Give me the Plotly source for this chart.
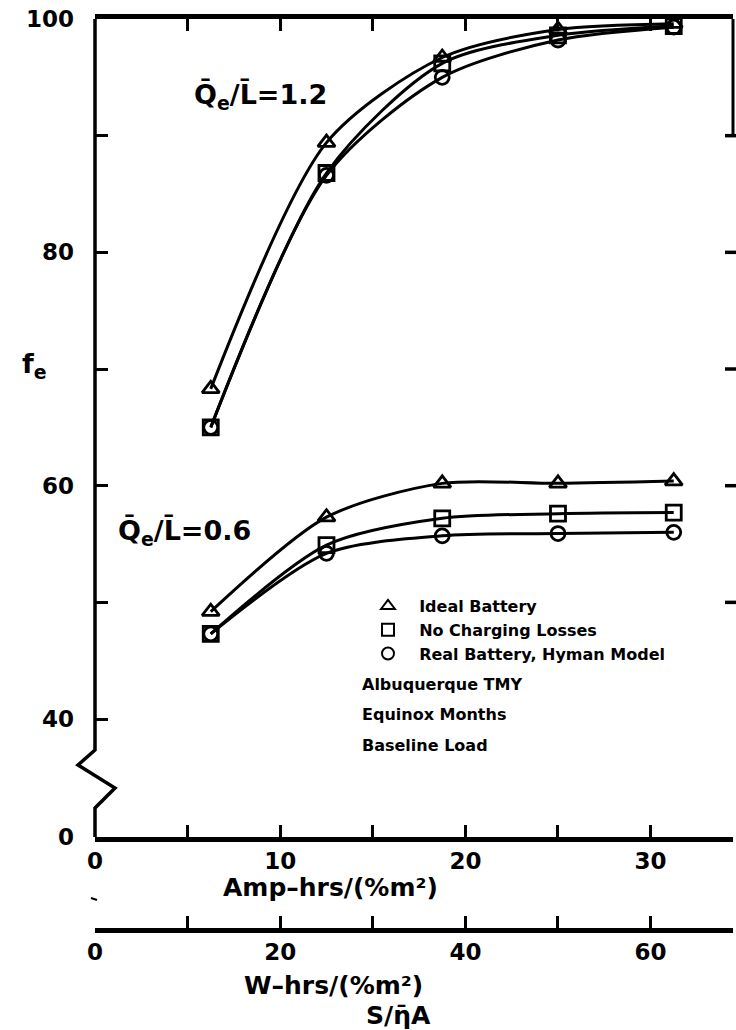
import plotly.graph_objects as go

# ---------------- data ----------------
amp_hrs = [6.25, 12.5, 18.75, 25.0, 31.25]

# Qe/L = 1.2
hi_ideal = [68.3, 89.4, 96.7, 99.1, 99.6]
hi_nocharge = [65.0, 86.8, 96.2, 98.6, 99.4]
hi_real = [65.0, 86.6, 95.0, 98.2, 99.3]

# Qe/L = 0.6
lo_ideal = [49.2, 57.3, 60.2, 60.2, 60.4]
lo_nocharge = [47.3, 54.9, 57.2, 57.6, 57.7]
lo_real = [47.3, 54.2, 55.7, 55.9, 56.0]

series_names = ["Ideal Battery", "No Charging Losses", "Real Battery, Hyman Model"]
series_symbols = ["triangle-up-open", "square-open", "circle-open"]
notes = ["Albuquerque TMY", "Equinox Months", "Baseline Load"]

x_tickvals = [0, 5, 10, 15, 20, 25, 30]
x_ticktext = ["0", "", "10", "", "20", "", "30"]
w_tickvals = [0, 10, 20, 30, 40, 50, 60]
w_ticktext = ["0", "", "20", "", "40", "", "60"]
y_break_zero = 29.89  # position where the broken axis shows 0
y_tickvals = [y_break_zero, 40, 50, 60, 70, 80, 90, 100]
y_ticktext = ["0", "40", "", "60", "", "80", "", "100"]

# ---------------- layout geometry ----------------
W, H = 736, 1030
ML, MR, MT, MB = 95, 3, 19, 100
X_MAX = 34.45
Y_DOM0 = (930 - 837) / (H - MT - MB)


def pxx(x):
    return (x - ML) / (W - ML - MR)


def pxy(y):
    return (H - MB - y) / (H - MT - MB)


FONT = "DejaVu Sans"

fig = go.Figure()

groups = [
    (hi_ideal, hi_nocharge, hi_real),
    (lo_ideal, lo_nocharge, lo_real),
]
sizes = [15, 15, 14]
for g in groups:
    for vals, sym, sz in zip(g, series_symbols, sizes):
        fig.add_trace(go.Scatter(
            x=amp_hrs, y=vals, mode="lines+markers",
            line=dict(color="black", width=3, shape="spline", smoothing=0.8),
            marker=dict(symbol=sym, size=sz, color="black",
                        line=dict(color="black", width=2.8)),
            showlegend=False, cliponaxis=False,
        ))

# legend entries
for name, sym, sz in zip(series_names, series_symbols, sizes):
    fig.add_trace(go.Scatter(
        x=[None], y=[None], mode="markers", name="\u00a0\u00a0" + name,
        marker=dict(symbol=sym, size=sz - 1, color="black",
                    line=dict(color="black", width=2.8)),
    ))

# dummy trace to activate second x axis
fig.add_trace(go.Scatter(x=[None], y=[None], xaxis="x2", showlegend=False))

shapes = []
# left broken spine
pts = [(95, 19), (95, 750), (78, 765), (115, 788), (95, 808), (95, 837)]
path = "M " + " L ".join(f"{pxx(a):.5f},{pxy(b):.5f}" for a, b in pts)
shapes.append(dict(type="path", path=path, xref="paper", yref="paper",
                   line=dict(color="black", width=3.5)))
# right spine (upper portion) and right ticks
shapes.append(dict(type="line", xref="paper", yref="y", x0=1.0, x1=1.0,
                   y0=90, y1=100, line=dict(color="black", width=3)))
for v in [50, 60, 70, 80, 90]:
    shapes.append(dict(type="line", xref="paper", yref="y", x0=pxx(725), x1=pxx(737),
                       y0=v, y1=v, line=dict(color="black", width=3.5)))
# small mark above second axis
shapes.append(dict(type="line", xref="paper", yref="paper",
                   x0=pxx(91), y0=pxy(898), x1=pxx(97), y1=pxy(900),
                   line=dict(color="black", width=2)))

bigfont = dict(family=FONT, size=27, color="black", weight="bold")
titlefont = dict(family=FONT, size=25, color="black", weight="bold")
annotations = [
    dict(text="Q\u0304<sub>e</sub>/L\u0304=1.2", x=pxx(192), y=pxy(96), xref="paper", yref="paper",
         xanchor="left", yanchor="middle", showarrow=False, font=bigfont),
    dict(text="Q\u0304<sub>e</sub>/L\u0304=0.6", x=pxx(116), y=pxy(532), xref="paper", yref="paper",
         xanchor="left", yanchor="middle", showarrow=False, font=bigfont),
    dict(text="f<sub>e</sub>", x=pxx(20), y=pxy(365), xref="paper", yref="paper",
         xanchor="left", yanchor="middle", showarrow=False,
         font=dict(family=FONT, size=27, color="black", weight="bold")),
    dict(text="Amp\u2013hrs/(%m\u00b2)", x=pxx(330), y=pxy(887), xref="paper", yref="paper",
         xanchor="center", yanchor="middle", showarrow=False, font=titlefont),
    dict(text="W\u2013hrs/(%m\u00b2)", x=pxx(333), y=pxy(985), xref="paper", yref="paper",
         xanchor="center", yanchor="middle", showarrow=False, font=titlefont),
    dict(text="S/\u03b7\u0304A", x=pxx(398), y=pxy(1015), xref="paper", yref="paper",
         xanchor="center", yanchor="middle", showarrow=False, font=titlefont),
]
for i, t in enumerate(notes):
    annotations.append(dict(text=t, x=pxx(360), y=pxy(684 + 30.5 * i), xref="paper", yref="paper",
                            xanchor="left", yanchor="middle", showarrow=False,
                            font=dict(family=FONT, size=16, color="black", weight="bold")))

tickfont = dict(family=FONT, size=23, color="black", weight="bold")
fig.update_layout(
    width=W, height=H,
    margin=dict(l=ML, r=MR, t=MT, b=MB, pad=0),
    paper_bgcolor="white", plot_bgcolor="white",
    showlegend=True,
    legend=dict(x=pxx(368), y=pxy(589), xanchor="left", yanchor="top",
                bgcolor="rgba(0,0,0,0)", tracegroupgap=0, itemsizing="constant",
                font=dict(family=FONT, size=16, color="black", weight="bold")),
    xaxis=dict(range=[0, X_MAX], domain=[0, 1], anchor="y",
               tickvals=x_tickvals, ticktext=x_ticktext,
               ticks="inside", ticklen=12, tickwidth=2.5, tickcolor="black",
               showline=True, linewidth=4.5, linecolor="black", mirror="ticks",
               showgrid=False, zeroline=False, tickfont=tickfont),
    xaxis2=dict(range=[0, 2 * X_MAX], overlaying="x", anchor="free", position=0, side="bottom",
                tickvals=w_tickvals, ticktext=w_ticktext,
                ticks="inside", ticklen=12, tickwidth=2.5, tickcolor="black",
                showline=True, linewidth=4.5, linecolor="black",
                showgrid=False, zeroline=False, tickfont=tickfont),
    yaxis=dict(range=[y_break_zero, 100], domain=[Y_DOM0, 1],
               tickvals=y_tickvals, ticktext=y_ticktext,
               ticks="inside", ticklen=13, tickwidth=2.5, tickcolor="black",
               ticklabelstandoff=20,
               showline=False, showgrid=False, zeroline=False, tickfont=tickfont),
    shapes=shapes,
    annotations=annotations,
)

fig.write_html("out.html")
